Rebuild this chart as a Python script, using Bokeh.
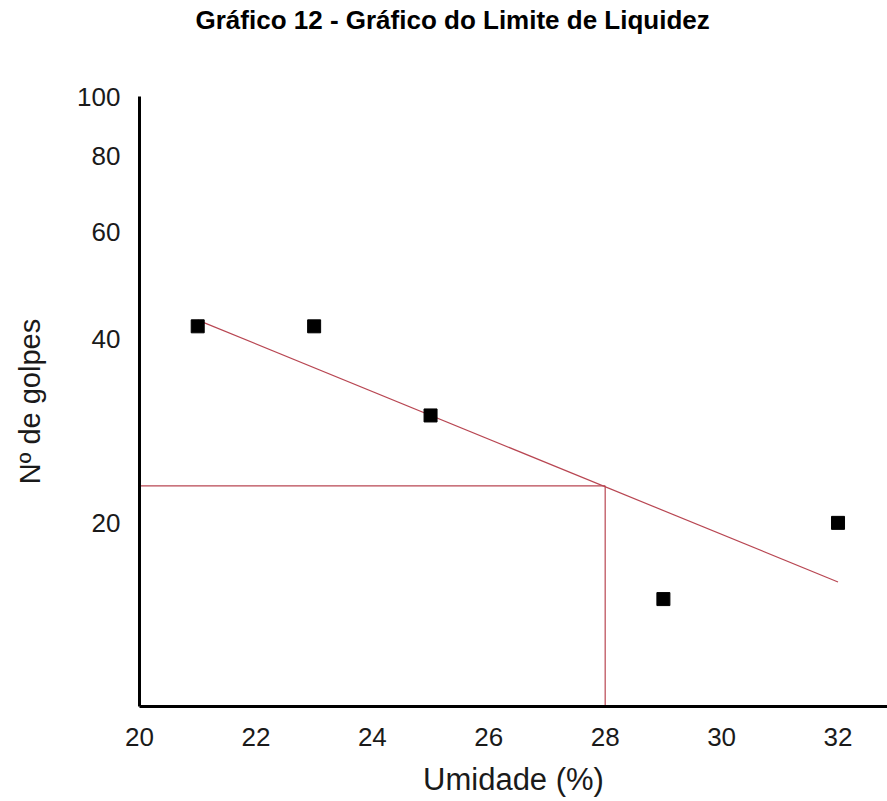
from bokeh.plotting import figure
from bokeh.models import Range1d, FixedTicker, CustomJSTickFormatter, Title
from bokeh.embed import file_html
from bokeh.resources import INLINE

# Liquid limit test: moisture content (%) vs number of blows
umidade = [21, 23, 25, 29, 32]
golpes = [42, 42, 30, 15, 20]

# fitted trend line end points
trend_x = [21, 32]
trend_y = [43, 16]

# liquid limit read at the trend line
ll_umidade = 28
ll_golpes = 23

y_ticks = [20, 40, 60, 80, 100]
x_ticks = [20, 22, 24, 26, 28, 30, 32]

FONT = "Liberation Sans"
RED = "#b84652"

p = figure(width=887, height=801, y_axis_type="log",
           x_range=Range1d(20, 32.85), y_range=Range1d(10, 100),
           output_backend="svg", toolbar_location=None,
           min_border_left=139, min_border_right=0,
           min_border_top=96, min_border_bottom=95)

p.title = None
# two trailing blank lines lift the heading towards the top edge
title = Title(text="Gráfico 12 - Gráfico do Limite de Liquidez\n\n",
              text_font=FONT, text_font_size="26px", text_font_style="bold",
              text_line_height=1.0, align="left", offset=56,
              text_color="#000000", standoff=3)
p.add_layout(title, "above")

p.outline_line_color = None
p.xgrid.visible = False
p.ygrid.visible = False
p.background_fill_color = "white"
p.border_fill_color = "white"

# reference lines for the liquid limit
p.line([20, ll_umidade], [ll_golpes, ll_golpes], line_color=RED, line_width=1.2)
p.line([ll_umidade, ll_umidade], [10, ll_golpes], line_color=RED, line_width=1.2)

# trend line
p.line(trend_x, trend_y, line_color=RED, line_width=1.2)

# measured points
p.scatter(umidade, golpes, marker="square", size=13,
          fill_color="black", line_color="black")

for ax in (p.xaxis[0], p.yaxis[0]):
    ax.axis_line_width = 3
    ax.axis_line_color = "black"
    ax.major_tick_line_color = None
    ax.minor_tick_line_color = None
    ax.major_label_text_font = FONT
    ax.major_label_text_font_size = "26px"
    ax.major_label_text_color = "#1a1a1a"
    ax.axis_label_text_font = FONT
    ax.axis_label_text_font_style = "normal"
    ax.axis_label_text_color = "#1a1a1a"

p.xaxis.axis_label_text_font_size = "31px"
p.yaxis.axis_label_text_font_size = "29px"

p.xaxis.ticker = FixedTicker(ticks=x_ticks)
p.yaxis.ticker = FixedTicker(ticks=y_ticks)
p.yaxis.formatter = CustomJSTickFormatter(code="return tick.toFixed(0);")
p.xaxis.formatter = CustomJSTickFormatter(code="return tick.toFixed(0);")

p.xaxis.axis_label = "Umidade (%)"
p.yaxis.axis_label = "Nº de golpes"
p.xaxis.major_label_standoff = 15
p.yaxis.major_label_standoff = 13
p.xaxis.axis_label_standoff = 13
p.yaxis.axis_label_standoff = 28

open("out.html", "w").write(file_html(p, INLINE))
